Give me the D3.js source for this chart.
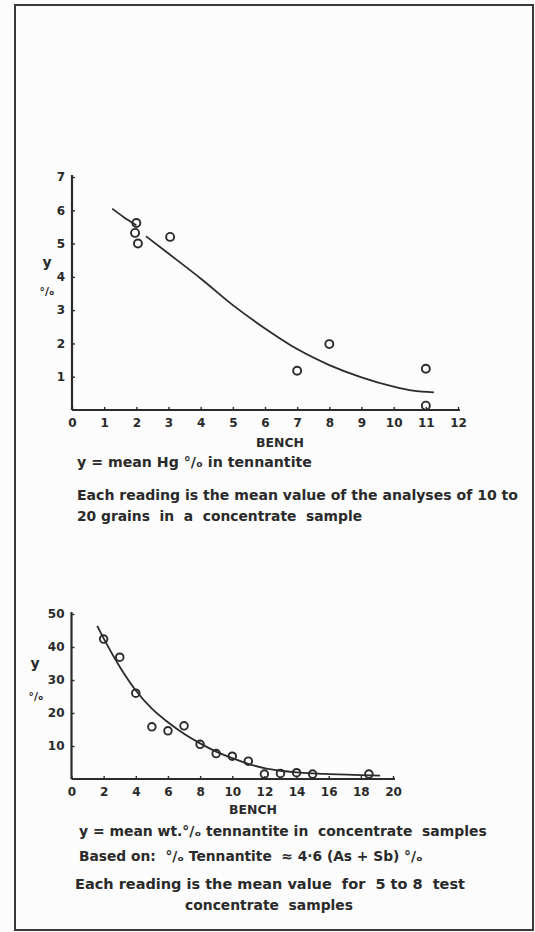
<!DOCTYPE html>
<html>
<head>
<meta charset="utf-8">
<script src="https://cdn.jsdelivr.net/npm/d3@7"></script>
<style>
  html, body { margin: 0; padding: 0; background: #fcfcfc; }
  svg { display: block; }
  text { font-family: "DejaVu Sans", sans-serif; font-weight: bold; fill: #2a2a2a; white-space: pre; }
</style>
</head>
<body>
<svg id="chart" width="535" height="932"></svg>
<script>
// ---------- Chart 1: mean Hg % in tennantite vs bench ----------
const hgXTicks = [0, 1, 2, 3, 4, 5, 6, 7, 8, 9, 10, 11, 12];
const hgYTicks = [1, 2, 3, 4, 5, 6, 7];
const hgBench = [2, 1.96, 2.05, 3.05, 7, 8, 11, 11];
const hgValue = [5.62, 5.32, 5.0, 5.2, 1.18, 1.98, 1.24, 0.13];
// fitted curve as drawn (gap near bench 2 as in the original)
const hgCurveX = [1.25, 1.6, 2.0, 2.15, 2.3, 3, 4, 5, 6, 7, 8, 9, 10, 10.6, 11.25];
const hgCurveY = [6.05, 5.8, 5.55, null, 5.22, 4.7, 3.95, 3.15, 2.45, 1.83, 1.35, 0.98, 0.7, 0.58, 0.53];

// ---------- Chart 2: mean wt.% tennantite vs bench ----------
const tenXTicks = [0, 2, 4, 6, 8, 10, 12, 14, 16, 18, 20];
const tenYTicks = [10, 20, 30, 40, 50];
const tenBench = [2, 3, 4, 5, 6, 7, 8, 9, 10, 11, 12, 13, 14, 15, 18.5];
const tenValue = [42.4, 36.9, 26.0, 15.8, 14.6, 16.1, 10.5, 7.7, 6.9, 5.4, 1.5, 1.7, 1.9, 1.5, 1.5];
const tenCurveX = [1.6, 2, 3, 4, 5, 6, 7, 8, 9, 10, 11, 12, 13, 14, 15, 16, 18, 19.2];
const tenCurveY = [46.4, 42.6, 34, 26.8, 21.3, 17.2, 13.7, 10.8, 8.3, 6.3, 4.6, 3.3, 2.5, 2.0, 1.7, 1.5, 1.2, 1.0];

const PCT = "\u00B0/\u2092";

const svg = d3.select("#chart");
const ink = "#2b2b2b";

// page frame
svg.append("rect").attr("x", 15).attr("y", 5).attr("width", 518).attr("height", 925)
  .attr("fill", "none").attr("stroke", "#3a3a3a").attr("stroke-width", 2);

function fitText(sel, target) {
  const node = sel.node();
  const fs = parseFloat(sel.attr("font-size"));
  const w = node.getComputedTextLength();
  if (w > 0) sel.attr("font-size", (fs * target / w).toFixed(2));
  return sel;
}

function drawChart(cfg) {
  const x = d3.scaleLinear().domain(cfg.xDomain).range(cfg.xRange);
  const y = d3.scaleLinear().domain(cfg.yDomain).range(cfg.yRange);
  const g = svg.append("g");

  // x axis
  const xa = g.append("g").attr("transform", `translate(0,${cfg.yRange[0]})`)
    .call(d3.axisBottom(x).tickValues(cfg.xTicks).tickSize(-3).tickPadding(8).tickFormat(d3.format("d")));
  xa.select(".domain").attr("stroke", ink).attr("stroke-width", 2.2)
    .attr("d", `M${cfg.xRange[0]},0H${cfg.xRange[1] + 2}`);
  xa.selectAll(".tick line").attr("stroke", ink).attr("stroke-width", 1.4);
  xa.selectAll(".tick text").attr("font-size", cfg.tickFont).attr("fill", ink)
    .attr("font-family", "DejaVu Sans").attr("font-weight", "bold");

  // y axis
  const ya = g.append("g").attr("transform", `translate(${cfg.xRange[0]},0)`)
    .call(d3.axisLeft(y).tickValues(cfg.yTicks).tickSize(-3).tickPadding(7).tickFormat(d3.format("d")));
  ya.select(".domain").attr("stroke", ink).attr("stroke-width", 2.2)
    .attr("d", `M0,${cfg.yRange[0]}V${cfg.yRange[1] - 2}`);
  ya.selectAll(".tick line").attr("stroke", ink).attr("stroke-width", 1.4);
  ya.selectAll(".tick text").attr("font-size", cfg.tickFont).attr("fill", ink)
    .attr("font-family", "DejaVu Sans").attr("font-weight", "bold");

  // curve
  const pts = cfg.curveX.map((d, i) => [d, cfg.curveY[i]]);
  const line = d3.line().defined(d => d[1] !== null)
    .x(d => x(d[0])).y(d => y(d[1])).curve(d3.curveMonotoneX);
  g.append("path").attr("d", line(pts)).attr("fill", "none")
    .attr("stroke", ink).attr("stroke-width", 1.8);

  // points
  g.selectAll("circle.pt").data(cfg.px.map((d, i) => [d, cfg.py[i]])).join("circle")
    .attr("class", "pt").attr("cx", d => x(d[0])).attr("cy", d => y(d[1]))
    .attr("r", cfg.r).attr("fill", "none").attr("stroke", ink).attr("stroke-width", 1.9);
  return { x, y };
}

drawChart({
  xDomain: [0, 12], xRange: [72, 458], yDomain: [0, 7], yRange: [410, 177],
  xTicks: hgXTicks, yTicks: hgYTicks, tickFont: 12,
  curveX: hgCurveX, curveY: hgCurveY, px: hgBench, py: hgValue, r: 4
});

drawChart({
  xDomain: [0, 20], xRange: [71.5, 393], yDomain: [0, 50], yRange: [779, 614],
  xTicks: tenXTicks, yTicks: tenYTicks, tickFont: 12,
  curveX: tenCurveX, curveY: tenCurveY, px: tenBench, py: tenValue, r: 3.8
});

function label(txt, xPos, yPos, anchor, size, target) {
  const t = svg.append("text").attr("x", xPos).attr("y", yPos)
    .attr("text-anchor", anchor).attr("font-size", size)
    .attr("xml:space", "preserve").text(txt);
  if (target) fitText(t, target);
  return t;
}

// chart 1 labels
label("y", 47, 267, "middle", 14);
label(PCT, 47, 295, "middle", 11);
label("BENCH", 280, 447, "middle", 11, 48);
label("y = mean Hg " + PCT + " in tennantite", 77, 467, "start", 12, 235);
label("Each reading is the mean value of the analyses of 10 to", 77, 500, "start", 12, 441);
label("20 grains  in  a  concentrate  sample", 77, 521, "start", 12, 285);

// chart 2 labels
label("y", 35, 668, "middle", 14);
label(PCT, 36, 700, "middle", 11);
label("BENCH", 253, 814, "middle", 11, 48);
label("y = mean wt." + PCT + " tennantite in  concentrate  samples", 79, 836, "start", 12, 408);
label("Based on:  " + PCT + " Tennantite  \u2248 4\u00B76 (As + Sb) " + PCT, 79, 861, "start", 12, 344);
label("Each reading is the mean value  for  5 to 8  test", 75, 889, "start", 12, 390);
label("concentrate  samples", 269, 910, "middle", 12, 168);
</script>
</body>
</html>
